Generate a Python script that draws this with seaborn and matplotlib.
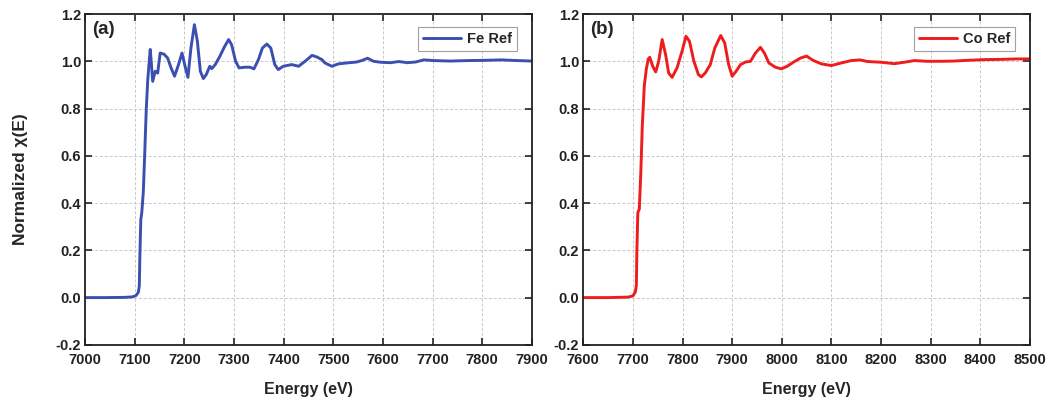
import numpy as np
import pandas as pd
import matplotlib
matplotlib.use("Agg")
import matplotlib.pyplot as plt
import seaborn as sns

# === 1. data ===
fe_energy = [7000, 7040, 7080, 7095, 7102, 7107, 7109, 7110, 7112, 7114, 7117, 7120,
             7123, 7126, 7129, 7131, 7133, 7136, 7141, 7146, 7151, 7159, 7166, 7173,
             7180, 7188, 7195, 7202, 7207, 7213, 7220, 7226, 7232, 7238, 7244, 7251,
             7255, 7262, 7271, 7281, 7289, 7295, 7303, 7310, 7322, 7332, 7340, 7349,
             7357, 7366, 7374, 7382, 7389, 7399, 7416, 7430, 7443, 7457, 7467, 7477,
             7483, 7497, 7510, 7527, 7547, 7557, 7569, 7581, 7595, 7615, 7632, 7649,
             7666, 7682, 7703, 7736, 7770, 7804, 7838, 7872, 7900]
fe_mu = [0.000, 0.000, 0.001, 0.003, 0.008, 0.022, 0.050, 0.163, 0.330, 0.360, 0.445, 0.614,
         0.797, 0.920, 1.000, 1.050, 1.000, 0.915, 0.958, 0.950, 1.035, 1.030, 1.014, 0.972,
         0.937, 0.986, 1.035, 0.972, 0.932, 1.056, 1.155, 1.085, 0.958, 0.927, 0.944, 0.979,
         0.969, 0.986, 1.020, 1.063, 1.092, 1.070, 1.000, 0.972, 0.975, 0.975, 0.968, 1.007,
         1.056, 1.073, 1.056, 0.986, 0.965, 0.979, 0.986, 0.979, 1.000, 1.025, 1.018, 1.007,
         0.993, 0.979, 0.989, 0.993, 0.997, 1.003, 1.013, 1.000, 0.996, 0.994, 0.999, 0.994,
         0.997, 1.006, 1.003, 1.001, 1.003, 1.004, 1.006, 1.003, 1.001]

co_energy = [7600, 7650, 7690, 7700, 7705, 7707, 7708, 7710, 7713, 7716, 7719, 7723,
             7727, 7731, 7734, 7740, 7746, 7752, 7759, 7766, 7772, 7779, 7789, 7799,
             7807, 7814, 7823, 7832, 7838, 7846, 7856, 7865, 7877, 7885, 7893, 7900,
             7907, 7917, 7927, 7937, 7947, 7957, 7965, 7974, 7987, 7999, 8011, 8024,
             8038, 8050, 8063, 8080, 8100, 8120, 8140, 8157, 8173, 8200, 8227, 8247,
             8267, 8293, 8320, 8347, 8373, 8407, 8440, 8473, 8500]
co_mu = [0.000, 0.000, 0.002, 0.007, 0.024, 0.052, 0.190, 0.360, 0.375, 0.530, 0.727, 0.896,
         0.966, 1.010, 1.017, 0.979, 0.955, 1.000, 1.092, 1.028, 0.951, 0.932, 0.972, 1.042,
         1.106, 1.085, 1.000, 0.944, 0.934, 0.951, 0.986, 1.056, 1.109, 1.078, 0.986, 0.937,
         0.955, 0.986, 0.997, 1.000, 1.035, 1.059, 1.035, 0.993, 0.975, 0.968, 0.979, 0.997,
         1.014, 1.022, 1.004, 0.989, 0.982, 0.993, 1.003, 1.006, 0.999, 0.996, 0.990, 0.996,
         1.003, 1.000, 1.000, 1.001, 1.004, 1.007, 1.008, 1.010, 1.010]

fe_ticks = list(range(7000, 7901, 100))
co_ticks = list(range(7600, 8501, 100))
y_ticks = [-0.2, 0.0, 0.2, 0.4, 0.6, 0.8, 1.0, 1.2]

# === 2. style ===
sns.set_style("ticks")
plt.rcParams["font.family"] = ["Liberation Sans", "DejaVu Sans"]
plt.rcParams["font.weight"] = "bold"
plt.rcParams["axes.labelweight"] = "bold"

fig, axes = plt.subplots(1, 2, figsize=(10.52, 4.01), dpi=100)
fig.subplots_adjust(left=0.081, right=0.979, bottom=0.140, top=0.965, wspace=0.115)

panels = [
    (axes[0], fe_energy, fe_mu, "Fe Ref", "#3a4fb0", fe_ticks, "(a)"),
    (axes[1], co_energy, co_mu, "Co Ref", "#ee1c1c", co_ticks, "(b)"),
]

# === 3. draw both panels ===
for ax, xe, ym, name, col, xt, tag in panels:
    df = pd.DataFrame({"energy": xe, "mu": ym})
    sns.lineplot(data=df, x="energy", y="mu", ax=ax, color=col, linewidth=2.1,
                 label=name, sort=True)
    ax.set_xlim(xt[0], xt[-1])
    ax.set_ylim(-0.2, 1.2)
    ax.set_xticks(xt)
    ax.set_yticks(y_ticks)
    ax.set_yticklabels([f"{v:.1f}" for v in y_ticks])
    ax.grid(True, color="#c8c8c8", linestyle=(0, (3, 2)), linewidth=0.7)
    ax.tick_params(direction="in", length=5, width=1.2, top=True, right=True,
                   labelsize=10.5, colors="#222222")
    ax.tick_params(axis="x", pad=6)
    ax.tick_params(axis="y", pad=3)
    for s in ax.spines.values():
        s.set_linewidth(1.3)
        s.set_color("#222222")
    ax.set_xlabel("Energy (eV)", fontsize=11.5, labelpad=11)
    ax.set_ylabel("")
    ax.text(0.015, 0.978, tag, transform=ax.transAxes, fontsize=13.5,
            fontweight="bold", va="top", ha="left")
    leg = ax.legend(loc="upper right", fontsize=10.5, frameon=True, fancybox=False,
                    handlelength=2.6, borderpad=0.35, handletextpad=0.4,
                    borderaxespad=0, bbox_to_anchor=(0.967, 0.96))
    leg.get_frame().set_edgecolor("#888888")
    leg.get_frame().set_linewidth(0.8)

axes[0].set_ylabel("Normalized χ(E)", fontsize=12.5, labelpad=20)

plt.savefig("out.png", dpi=100)
